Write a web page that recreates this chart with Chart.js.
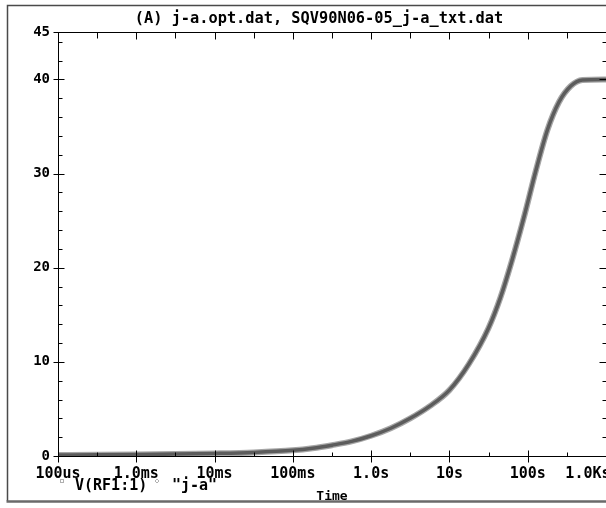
<!DOCTYPE html>
<html>
<head>
<meta charset="utf-8">
<script src="https://cdn.jsdelivr.net/npm/chart.js@4/dist/chart.umd.min.js"></script>
<style>
  html, body { margin: 0; padding: 0; background: #fff; }
  #c { display: block; }
</style>
</head>
<body>
<canvas id="c" width="606" height="508"></canvas>
<script>
// ---- data ----
const titleText = '(A) j-a.opt.dat, SQV90N06-05_j-a_txt.dat';
const seriesNames = ['V(RF1:1)', '"j-a"'];
const times = [1e-4, 3.16e-4, 1e-3, 3.16e-3, 1e-2, 3.16e-2, 0.1, 0.178, 0.316, 0.562, 1, 1.78, 3.16, 5.62, 10, 17.8, 31.6, 44.7, 63.1, 89.1, 126, 178, 251, 355, 501, 1000];
const simValues = [0.1, 0.12, 0.15, 0.2, 0.27, 0.38, 0.6, 0.82, 1.15, 1.55, 2.15, 2.95, 4.0, 5.3, 7.0, 9.8, 13.6, 16.8, 20.8, 25.3, 30.2, 34.6, 37.6, 39.3, 39.95, 40.0];
const dataValues = [0.1, 0.12, 0.15, 0.2, 0.27, 0.38, 0.6, 0.82, 1.15, 1.55, 2.15, 2.95, 4.0, 5.3, 7.0, 9.8, 13.6, 16.8, 20.8, 25.3, 30.2, 34.6, 37.6, 39.3, 39.95, 40.0];
const xTickValues = [1e-4, 1e-3, 1e-2, 1e-1, 1, 10, 100, 1000];
const xTickLabels = ['100us', '1.0ms', '10ms', '100ms', '1.0s', '10s', '100s', '1.0Ks'];
const yTickValues = [0, 10, 20, 30, 40, 45];
const xTitle = 'Time';

const MONO = '"DejaVu Sans Mono", "Liberation Mono", monospace';

const toPts = (vals) => times.map((t, i) => ({ x: t, y: vals[i] }));

const framePlugin = {
  id: 'frame',
  beforeDraw(chart) {
    const ctx = chart.ctx;
    ctx.save();
    ctx.fillStyle = '#fff';
    ctx.fillRect(0, 0, chart.width, chart.height);
    ctx.restore();
  },
  afterDraw(chart) {
    const ctx = chart.ctx;
    const ca = chart.chartArea;
    const xs = chart.scales.x, ys = chart.scales.y;
    ctx.save();
    // outer frame
    ctx.strokeStyle = '#4a4a4a';
    ctx.lineWidth = 1.5;
    ctx.beginPath();
    ctx.moveTo(606, 5.5); ctx.lineTo(7.5, 5.5); ctx.lineTo(7.5, 501);
    ctx.stroke();
    ctx.strokeStyle = '#6a6a6a';
    ctx.lineWidth = 2.5;
    ctx.beginPath();
    ctx.moveTo(6.5, 501.5); ctx.lineTo(606, 501.5);
    ctx.stroke();

    // plot axes
    ctx.strokeStyle = '#000';
    ctx.lineWidth = 1;
    const L = Math.round(ca.left) + 0.5, T = Math.round(ca.top) + 0.5, B = Math.round(ca.bottom) + 0.5, R = Math.round(ca.right) - 0.5;
    ctx.beginPath();
    ctx.moveTo(L, T); ctx.lineTo(ca.right, T);
    ctx.moveTo(L, T); ctx.lineTo(L, B);
    ctx.moveTo(L, B); ctx.lineTo(ca.right, B);
    ctx.stroke();

    // x ticks (decades and half decades)
    ctx.beginPath();
    for (let k = -4; k <= 3; k++) {
      const major = Math.round(xs.getPixelForValue(Math.pow(10, k))) + 0.5;
      ctx.moveTo(major, B - 6); ctx.lineTo(major, B + 6);
      ctx.moveTo(major, T); ctx.lineTo(major, T + 7);
      if (k < 3) {
        const half = Math.round(xs.getPixelForValue(Math.pow(10, k + 0.5))) + 0.5;
        ctx.moveTo(half, B - 4); ctx.lineTo(half, B);
        ctx.moveTo(half, T); ctx.lineTo(half, T + 6);
      }
    }
    // y ticks
    for (let v = 0; v <= 45; v++) {
      const isMajor = yTickValues.includes(v);
      const isMinor = v % 2 === 0 && !isMajor;
      if (!isMajor && !isMinor) continue;
      const y = Math.round(ys.getPixelForValue(v)) + 0.5;
      if (isMajor) {
        ctx.moveTo(L - 5, y); ctx.lineTo(L + 6, y);
        ctx.moveTo(R + 1, y); ctx.lineTo(R - 6, y);
      } else {
        ctx.moveTo(L, y); ctx.lineTo(L + 4, y);
        ctx.moveTo(R + 1, y); ctx.lineTo(R - 3, y);
      }
    }
    ctx.stroke();

    // legend
    ctx.font = 'bold 15px ' + MONO;
    ctx.textBaseline = 'middle';
    ctx.textAlign = 'left';
    ctx.fillStyle = '#000';
    ctx.strokeStyle = '#b0b0b0';
    ctx.lineWidth = 1;
    ctx.strokeRect(60.5, 479.5, 3, 3);
    ctx.fillText(seriesNames[0], 75, 486);
    ctx.beginPath();
    ctx.moveTo(157, 479); ctx.lineTo(159, 481); ctx.lineTo(157, 483); ctx.lineTo(155, 481); ctx.closePath();
    ctx.stroke();
    ctx.fillText(seriesNames[1], 172, 486);
    ctx.restore();
  }
};

new Chart(document.getElementById('c'), {
  type: 'scatter',
  data: {
    datasets: [
      {
        label: seriesNames[1],
        data: toPts(dataValues),
        showLine: true,
        borderColor: '#a6a6a6',
        borderWidth: 6,
        pointRadius: 0,
        cubicInterpolationMode: 'monotone',
        order: 2
      },
      {
        label: seriesNames[0],
        data: toPts(simValues),
        showLine: true,
        borderColor: '#5c5c5c',
        borderWidth: 3.5,
        pointRadius: 0,
        cubicInterpolationMode: 'monotone',
        order: 1
      }
    ]
  },
  options: {
    responsive: false,
    devicePixelRatio: 1,
    animation: false,
    layout: { padding: { left: 32, right: 0, top: 0, bottom: 0 } },
    plugins: {
      legend: { display: false },
      tooltip: { enabled: false },
      title: {
        display: true,
        text: titleText,
        color: '#000',
        font: { family: MONO, size: 15.3, weight: 'bold', lineHeight: 1.2 },
        padding: { top: 10, bottom: 4 }
      }
    },
    scales: {
      x: {
        type: 'logarithmic',
        min: 1e-4,
        max: 1e3,
        grid: { display: false, drawTicks: false },
        border: { display: false },
        afterBuildTicks: (s) => { s.ticks = xTickValues.map(v => ({ value: v })); },
        afterFit: (s) => { s.height = 52; s.paddingLeft = 0; s.paddingRight = 0; },
        ticks: {
          autoSkip: false,
          maxRotation: 0,
          padding: 9,
          color: '#000',
          font: { family: MONO, size: 15, weight: 'bold' },
          callback: (v, i) => (i === xTickLabels.length - 1 ? xTickLabels[i] + '    ' : xTickLabels[i])
        },
        title: {
          display: true,
          text: xTitle,
          color: '#000',
          font: { family: MONO, size: 13, weight: 'bold', lineHeight: 1.2 },
          padding: { top: 0, bottom: 4 }
        }
      },
      y: {
        min: 0,
        max: 45,
        grid: { display: false, drawTicks: false },
        border: { display: false },
        afterBuildTicks: (s) => { s.ticks = yTickValues.map(v => ({ value: v })); },
        afterFit: (s) => { s.width = 26; s.paddingTop = 0; s.paddingBottom = 0; },
        ticks: {
          autoSkip: false,
          padding: 8,
          color: '#000',
          font: { family: MONO, size: 14, weight: 'bold' },
          callback: (v) => String(v)
        }
      }
    }
  },
  plugins: [framePlugin]
});
</script>
</body>
</html>
